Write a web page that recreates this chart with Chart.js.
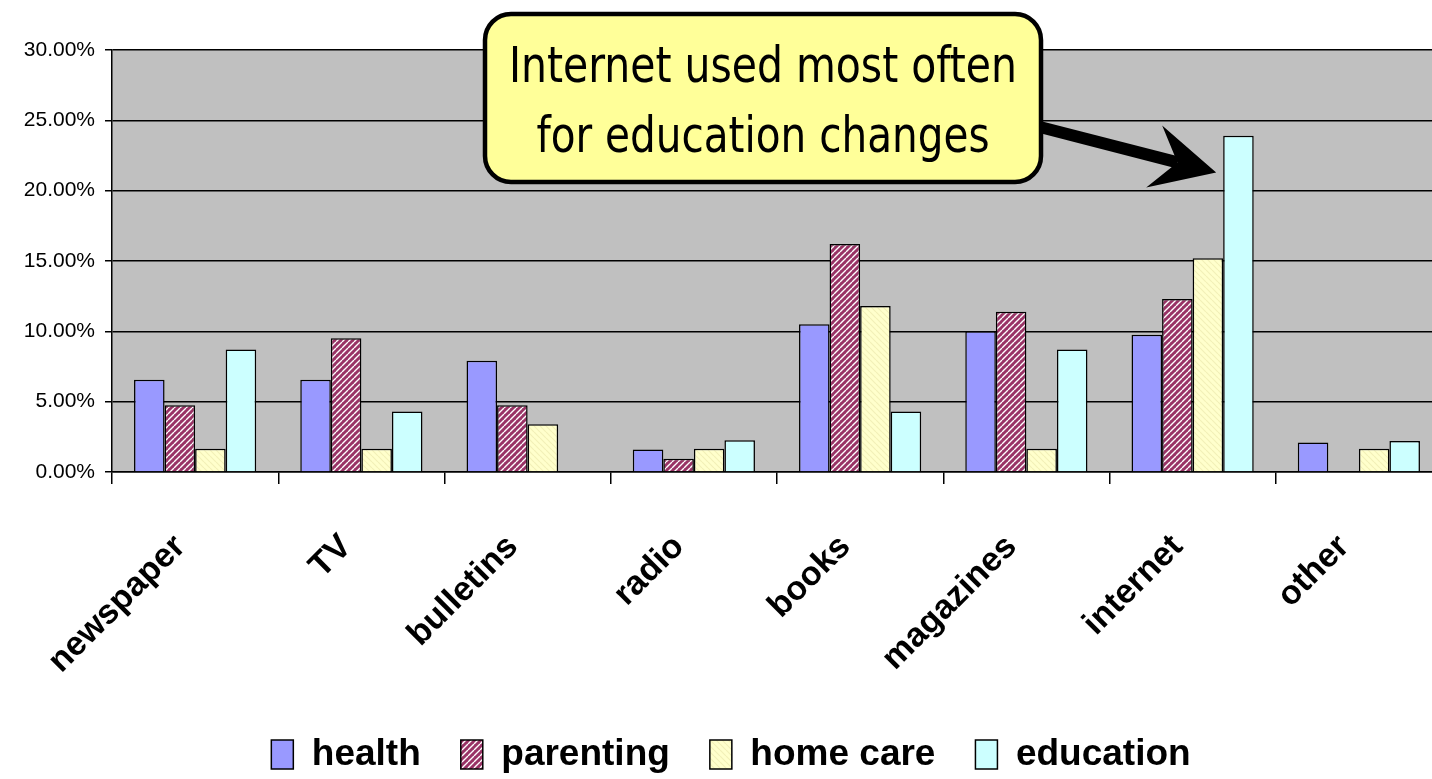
<!DOCTYPE html>
<html>
<head>
<meta charset="utf-8">
<script src="https://cdn.jsdelivr.net/npm/chart.js@4.4.1/dist/chart.umd.min.js"></script>
<style>
    html, body { margin: 0; padding: 0; background: #fff; overflow: hidden; }
    #wrap { width: 1432px; height: 779px; overflow: hidden; }
    #box { width: 1445px; height: 779px; }
</style>
</head>
<body>
<div id="wrap"><div id="box"><canvas id="chart"></canvas></div></div>
<script>
const CATEGORIES = ["newspaper", "TV", "bulletins", "radio", "books", "magazines", "internet", "other"];
const HEALTH = [6.55, 6.55, 7.9, 1.6, 10.5, 10.0, 9.75, 2.1];
const PARENTING = [4.75, 9.5, 4.75, 0.95, 16.2, 11.4, 12.3, null];
const HOME_CARE = [1.65, 1.65, 3.4, 1.65, 11.8, 1.65, 15.2, 1.65];
const EDUCATION = [8.7, 4.3, null, 2.25, 4.3, 8.7, 23.9, 2.2];
const Y_TICKS = [0, 5, 10, 15, 20, 25, 30];
const CALLOUT_LINES = ["Internet used most often", "for education changes"];

function stripePattern(bg, fg, size, lineW, dir) {
    const c = document.createElement("canvas");
    c.width = size;
    c.height = size;
    const g = c.getContext("2d");
    g.fillStyle = bg;
    g.fillRect(0, 0, size, size);
    g.strokeStyle = fg;
    g.lineWidth = lineW;
    g.beginPath();
    for (let k = -1; k <= 1; k++) {
        if (dir === "/") {
            g.moveTo(k * size, size);
            g.lineTo(k * size + size, 0);
        } else {
            g.moveTo(k * size, 0);
            g.lineTo(k * size + size, size);
        }
    }
    g.stroke();
    return g.createPattern(c, "repeat");
}

const parentingFill = stripePattern("#993366", "#ffffff", 6, 1.4, "/");
const homeCareFill = stripePattern("#ffffcc", "#f2f0b8", 6, 1.2, "\\");

function dataset(label, data, fill) {
    return {
        label,
        data,
        backgroundColor: fill,
        borderColor: "#000",
        borderWidth: 1.5,
        borderSkipped: "bottom",
        categoryPercentage: 0.735,
        barPercentage: 1.0,
    };
}

// callout box + arrow pointing at the internet/education bar
const calloutPlugin = {
    id: "callout",
    afterDraw(chart) {
        const ctx = chart.ctx;
        const bar = chart.getDatasetMeta(3).data[6];
        const tipX = bar.x - bar.width / 2 - 7;
        const tipY = chart.scales.y.getPixelForValue(21.3);

        ctx.save();
        // arrow shaft
        const sx = 1036, sy = 126;
        const ang = Math.atan2(tipY - sy, tipX - sx);
        const ux = Math.cos(ang), uy = Math.sin(ang);
        const nx = -uy, ny = ux;
        const headLen = 64, headHalf = 32, notch = 40;
        ctx.strokeStyle = "#000";
        ctx.lineWidth = 12;
        ctx.beginPath();
        ctx.moveTo(sx, sy);
        ctx.lineTo(tipX - ux * notch, tipY - uy * notch);
        ctx.stroke();
        ctx.fillStyle = "#000";
        ctx.beginPath();
        ctx.moveTo(tipX, tipY);
        ctx.lineTo(tipX - ux * headLen + nx * headHalf, tipY - uy * headLen + ny * headHalf);
        ctx.lineTo(tipX - ux * notch, tipY - uy * notch);
        ctx.lineTo(tipX - ux * headLen - nx * headHalf, tipY - uy * headLen - ny * headHalf);
        ctx.closePath();
        ctx.fill();

        // box
        const bx = 485, by = 14, bw = 556, bh = 168, r = 26;
        ctx.beginPath();
        ctx.roundRect(bx, by, bw, bh, r);
        ctx.fillStyle = "#ffff99";
        ctx.fill();
        ctx.lineWidth = 4.5;
        ctx.strokeStyle = "#000";
        ctx.stroke();

        // text
        ctx.fillStyle = "#000";
        ctx.font = "50px 'DejaVu Sans Condensed', 'DejaVu Sans', sans-serif";
        ctx.textAlign = "center";
        ctx.textBaseline = "alphabetic";
        const targets = [508, 453];
        const baselines = [82, 152];
        CALLOUT_LINES.forEach((line, i) => {
            const w = ctx.measureText(line).width;
            const s = Math.min(1, targets[i] / w);
            ctx.save();
            ctx.translate(763, baselines[i]);
            ctx.scale(s, 1);
            ctx.fillText(line, 0, 0);
            ctx.restore();
        });
        ctx.restore();
    },
};

const plotBg = {
    id: "plotBg",
    beforeDraw(chart) {
        const { ctx, chartArea: a } = chart;
        ctx.save();
        ctx.fillStyle = "#c0c0c0";
        ctx.fillRect(a.left, a.top, a.right - a.left, a.bottom - a.top);
        ctx.restore();
    },
};

new Chart(document.getElementById("chart"), {
    type: "bar",
    data: {
        labels: CATEGORIES,
        datasets: [
            dataset("health", HEALTH, "#9999ff"),
            dataset("parenting", PARENTING, parentingFill),
            dataset("home care", HOME_CARE, homeCareFill),
            dataset("education", EDUCATION, "#ccffff"),
        ],
    },
    options: {
        responsive: true,
        maintainAspectRatio: false,
        animation: false,
        layout: { padding: { top: 50, right: 3, left: 20, bottom: -4 } },
        plugins: {
            legend: {
                position: "bottom",
                labels: {
                    color: "#000",
                    font: { family: "'Liberation Sans', Arial, sans-serif", size: 37, weight: "bold" },
                    boxWidth: 22,
                    boxHeight: 29,
                    padding: 40,
                },
            },
            tooltip: { enabled: false },
        },
        scales: {
            x: {
                grid: { offset: true, drawOnChartArea: false, tickLength: 12, color: "#000", lineWidth: 1.5 },
                border: { display: true, color: "#000", width: 1.5 },
                ticks: {
                    color: "#000",
                    minRotation: 45,
                    maxRotation: 45,
                    padding: 43,
                    labelOffset: -15,
                    font: { family: "'Liberation Sans', Arial, sans-serif", size: 34, weight: "bold" },
                },
                afterFit: (scale) => { scale.height = 224; },
            },
            y: {
                min: 0,
                max: 30,
                afterBuildTicks: (scale) => { scale.ticks = Y_TICKS.map((v) => ({ value: v })); },
                grid: { color: "#000", lineWidth: 1.5, tickLength: 7 },
                border: { display: true, color: "#000", width: 1.5 },
                ticks: {
                    color: "#000",
                    padding: 10,
                    font: { family: "'Liberation Sans', Arial, sans-serif", size: 21 },
                    callback: (v) => v.toFixed(2) + "%",
                },
                afterFit: (scale) => { scale.width = 92; },
            },
        },
    },
    plugins: [plotBg, calloutPlugin],
});
</script>
</body>
</html>
